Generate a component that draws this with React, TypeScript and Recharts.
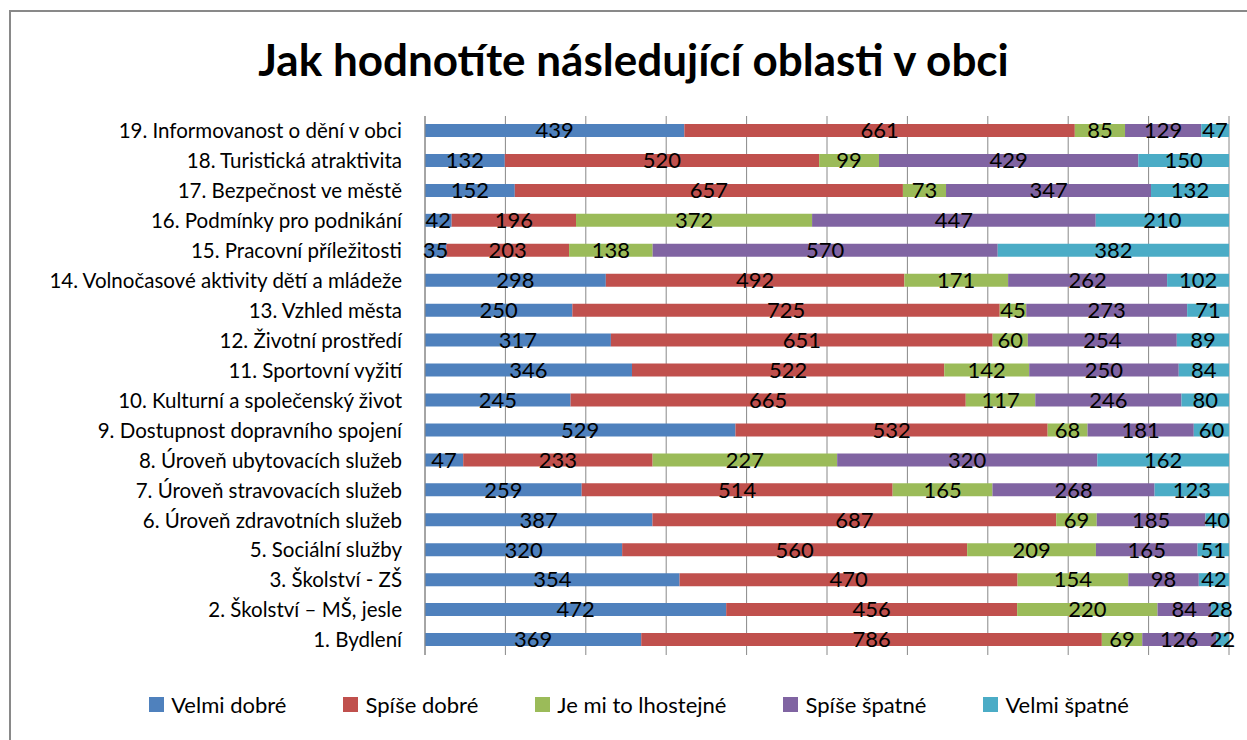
import { BarChart, Bar, XAxis, YAxis, CartesianGrid, LabelList } from 'recharts';

const CATEGORIES = [
  '19. Informovanost o dění v obci',
  '18. Turistická atraktivita',
  '17. Bezpečnost ve městě',
  '16. Podmínky pro podnikání',
  '15. Pracovní příležitosti',
  '14. Volnočasové aktivity dětí a mládeže',
  '13. Vzhled města',
  '12. Životní prostředí',
  '11. Sportovní vyžití',
  '10. Kulturní a společenský život',
  '9. Dostupnost dopravního spojení',
  '8. Úroveň ubytovacích služeb',
  '7. Úroveň stravovacích služeb',
  '6. Úroveň zdravotních služeb',
  '5. Sociální služby',
  '3. Školství  - ZŠ',
  '2. Školství – MŠ, jesle',
  '1. Bydlení',
];

const VELMI_DOBRE = [439, 132, 152, 42, 35, 298, 250, 317, 346, 245, 529, 47, 259, 387, 320, 354, 472, 369];
const SPISE_DOBRE = [661, 520, 657, 196, 203, 492, 725, 651, 522, 665, 532, 233, 514, 687, 560, 470, 456, 786];
const LHOSTEJNE = [85, 99, 73, 372, 138, 171, 45, 60, 142, 117, 68, 227, 165, 69, 209, 154, 220, 69];
const SPISE_SPATNE = [129, 429, 347, 447, 570, 262, 273, 254, 250, 246, 181, 320, 268, 185, 165, 98, 84, 126];
const VELMI_SPATNE = [47, 150, 132, 210, 382, 102, 71, 89, 84, 80, 60, 162, 123, 40, 51, 42, 28, 22];

const GRID_TICKS = [0, 0.1, 0.2, 0.3, 0.4, 0.5, 0.6, 0.7, 0.8, 0.9, 1];

const SERIES = [
  { key: 'vd', name: 'Velmi dobré', color: '#4F81BD', values: VELMI_DOBRE },
  { key: 'sd', name: 'Spíše dobré', color: '#C0504D', values: SPISE_DOBRE },
  { key: 'lh', name: 'Je mi to lhostejné', color: '#9BBB59', values: LHOSTEJNE },
  { key: 'ss', name: 'Spíše špatné', color: '#8064A2', values: SPISE_SPATNE },
  { key: 'vs', name: 'Velmi špatné', color: '#4BACC6', values: VELMI_SPATNE },
];

const FONT = 'Lato, "Open Sans", sans-serif';

const data = CATEGORIES.map((name, i) => {
  const row: Record<string, string | number> = { name };
  SERIES.forEach(s => { row[s.key] = s.values[i]; });
  return row;
});

export default function App() {
  return (
    <div style={{ position: 'absolute', left: 0, top: 0, width: 1247, height: 740, overflow: 'hidden', background: '#fff', fontFamily: FONT }}>
      {/* rámeček grafu */}
      <div style={{ position: 'absolute', left: 9, top: 10, width: 1300, height: 800, border: '2px solid #898989' }} />
      <div style={{ position: 'absolute', left: 0, top: 33, width: 1267, textAlign: 'center', fontSize: 44, fontWeight: 700, color: '#000' }}>
        Jak hodnotíte následující oblasti v obci
      </div>
      <div style={{ position: 'absolute', left: 0, top: 0 }}>
        <BarChart
          width={1247} height={740} data={data} layout="vertical" stackOffset="expand"
          margin={{ top: 116, right: 18, left: 25, bottom: 84 }}
        >
          <CartesianGrid horizontal={false} stroke="#888" />
          <XAxis
            type="number" domain={[0, 1]} ticks={GRID_TICKS} height={1}
            axisLine={false} tickLine={false} tick={{ fill: 'transparent', fontSize: 1 }}
          />
          <YAxis
            type="category" dataKey="name" width={400} interval={0}
            axisLine={{ stroke: '#888' }} tickLine={false}
            tick={{ fontSize: 20.5, fill: '#000', fontFamily: FONT }} tickMargin={17}
          />
          {SERIES.map(s => (
            <Bar key={s.key} dataKey={s.key} name={s.name} stackId="a" fill={s.color} barSize={13} isAnimationActive={false}>
              <LabelList dataKey={s.key} position="center" fill="#000" fontSize={22} fontFamily={FONT} />
            </Bar>
          ))}
        </BarChart>
      </div>
      <div style={{ position: 'absolute', left: 0, top: 691, width: 1278, display: 'flex', justifyContent: 'center', gap: 57 }}>
        {SERIES.map(s => (
          <div key={s.key} style={{ display: 'flex', alignItems: 'center', fontSize: 22, color: '#000' }}>
            <span style={{ display: 'inline-block', width: 15, height: 15, background: s.color, marginRight: 7 }} />
            {s.name}
          </div>
        ))}
      </div>
    </div>
  );
}
